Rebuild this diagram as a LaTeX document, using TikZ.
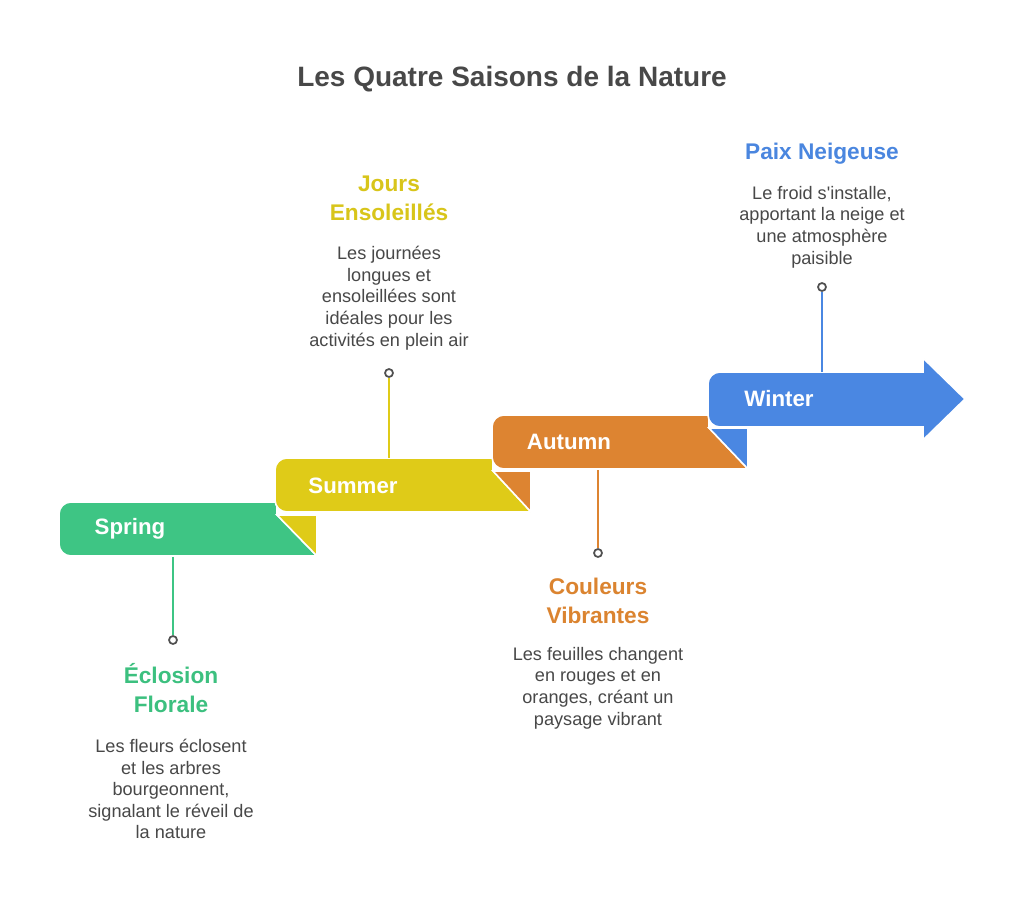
\documentclass[tikz,border=0pt]{standalone}
\usepackage{fontspec}
\setmainfont{Liberation Sans}
\newcommand{\straightapos}{\XeTeXglyph\XeTeXcharglyph"0027\relax}
\definecolor{cgreen}{HTML}{3EC584}
\definecolor{cyellow}{HTML}{DFCB18}
\definecolor{corange}{HTML}{DD8431}
\definecolor{cblue}{HTML}{4A87E2}
\definecolor{tgreen}{HTML}{3CC07F}
\definecolor{tyellow}{HTML}{D8C51A}
\definecolor{torange}{HTML}{DB8430}
\definecolor{tblue}{HTML}{4A86DF}
\definecolor{ctext}{HTML}{484848}
\definecolor{cdot}{HTML}{505050}
\tikzset{
  barshape/.style={draw=white, line width=1.2pt, line join=miter},
  barlabel/.style={text=white, font=\fontsize{16.7}{19}\selectfont\bfseries, inner sep=0pt},
  heading/.style={font=\fontsize{17}{21.75}\selectfont\bfseries, align=center, inner sep=0pt},
  body/.style={text=ctext, font=\fontsize{13.6}{16.2}\selectfont, align=center, inner sep=0pt},
  dot/.style={circle, draw=cdot, fill=white, line width=1.3pt, minimum size=6pt, inner sep=0pt},
  conn/.style={line width=1.3pt},
}
\begin{document}
\begin{tikzpicture}[x=0.75pt, y=-0.75pt]
\useasboundingbox (0,0) rectangle (1024,904);
\fill[white] (0,0) rectangle (1024,904);

% title
\node[text=ctext, font=\fontsize{21}{24}\selectfont\bfseries, inner sep=0pt] (title) at (512,79) {Les Quatre Saisons de la Nature};

% Spring bar
\fill[cgreen, barshape] (317,556) [rounded corners=9pt] -- (59,556) -- (59,502) [sharp corners] -- (277,502) -- (277,515) -- cycle;
\fill[cyellow, barshape] (277,515) -- (317,515) -- (317,556) -- cycle;
% Summer bar
\fill[cyellow, barshape] (531,512) [rounded corners=9pt] -- (275,512) -- (275,458) [sharp corners] -- (493,458) -- (493,471) -- cycle;
\fill[corange, barshape] (493,471) -- (531,471) -- (531,512) -- cycle;
% Autumn bar
\fill[corange, barshape] (748,469) [rounded corners=9pt] -- (492,469) -- (492,415) [sharp corners] -- (709,415) -- (709,428) -- cycle;
\fill[cblue, barshape] (709,428) -- (748,428) -- (748,469) -- cycle;
% Winter arrow
\fill[cblue, barshape] (923,427) [rounded corners=9pt] -- (708,427) -- (708,372) [sharp corners] -- (923,372) -- (923,358) -- (965,399) -- (923,440) -- cycle;

% bar labels
\node[barlabel] (spring) at (130,529) {Spring};
\node[barlabel] (summer) at (353,486) {Summer};
\node[barlabel] (autumn) at (569,442) {Autumn};
\node[barlabel] (winter) at (779,399) {Winter};

% connector anchors on bars
\coordinate (springc) at (173,557);
\coordinate (summerc) at (389,458);
\coordinate (autumnc) at (598,470);
\coordinate (winterc) at (822,372);

% dots
\node[dot] (springdot) at (173,640) {};
\node[dot] (summerdot) at (389,373) {};
\node[dot] (autumndot) at (598,553) {};
\node[dot] (winterdot) at (822,287) {};

\draw[conn, cgreen] (springc) -- (springdot);
\draw[conn, cyellow] (summerc) -- (summerdot);
\draw[conn, corange] (autumnc) -- (autumndot);
\draw[conn, cblue] (winterc) -- (winterdot);

% texts
\node[heading, text=tgreen] (springh) at (171,688) {Éclosion\\Florale};
\node[body] (springb) at (171,789) {Les fleurs éclosent\\et les arbres\\bourgeonnent,\\signalant le réveil de\\la nature};

\node[heading, text=tyellow] (summerh) at (389,198) {Jours\\Ensoleillés};
\node[body] (summerb) at (389,298) {Les journées\\longues et\\ensoleillées sont\\idéales pour les\\activités en plein air};

\node[heading, text=torange] (autumnh) at (598,601) {Couleurs\\Vibrantes};
\node[body] (autumnb) at (598,688) {Les feuilles changent\\en rouges et en\\oranges, créant un\\paysage vibrant};

\node[heading, text=tblue] (winterh) at (822,154) {Paix Neigeuse};
\node[body] (winterb) at (822,227) {Le froid s\straightapos installe,\\apportant la neige et\\une atmosphère\\paisible};
\end{tikzpicture}
\end{document}
